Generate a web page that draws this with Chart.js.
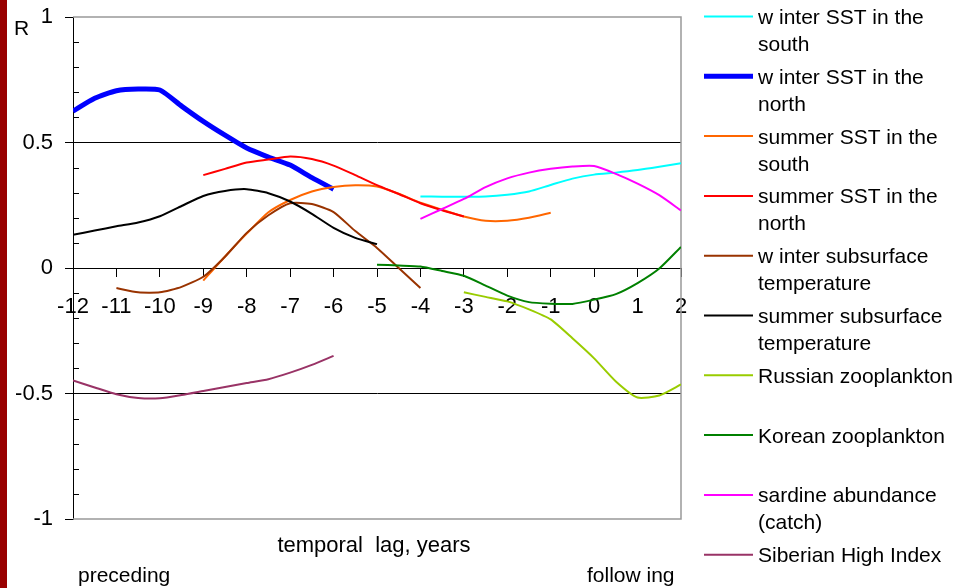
<!DOCTYPE html>
<html lang="en">
<head>
<meta charset="UTF-8">
<title>R vs temporal lag</title>
<script src="https://cdn.jsdelivr.net/npm/chart.js"></script>
<style>
  html, body { margin: 0; padding: 0; background: #fff; }
  #wrap { width: 958px; height: 588px; }
</style>
</head>
<body>
<div id="wrap"><canvas id="myChart" width="958" height="588"></canvas></div>
<script>
// lag in years, half-year steps
const lags = [-12, -11.5, -11, -10.5, -10, -9.5, -9, -8.5, -8, -7.5, -7, -6.5, -6, -5.5, -5,
  -4.5, -4, -3.5, -3, -2.5, -2, -1.5, -1, -0.5, 0, 0.5, 1, 1.5, 2];
const xTicks = [-12, -11, -10, -9, -8, -7, -6, -5, -4, -3, -2, -1, 0, 1, 2];
const yTicks = [-1, -0.5, 0, 0.5, 1];

const _ = null;
const winterSouth = [_, _, _, _, _, _, _, _, _, _, _, _, _, _, _, _,
  0.285, 0.284, 0.284, 0.285, 0.292, 0.305, 0.331, 0.356, 0.372, 0.38, 0.39, 0.403, 0.417];
const winterNorth = [0.625, 0.676, 0.706, 0.713, 0.709, 0.645, 0.584, 0.529, 0.478, 0.442, 0.41, 0.36, 0.314,
  _, _, _, _, _, _, _, _, _, _, _, _, _, _, _, _];
const summerSouth = [_, _, _, _, _, _,
  -0.05, 0.046, 0.137, 0.222, 0.271, 0.305, 0.323, 0.33, 0.325, 0.296, 0.26, 0.232, 0.205, 0.188, 0.188, 0.2, 0.22,
  _, _, _, _, _, _];
const summerNorth = [_, _, _, _, _, _,
  0.37, 0.395, 0.42, 0.432, 0.444, 0.434, 0.408, 0.37, 0.33, 0.295, 0.258, 0.23, 0.205,
  _, _, _, _, _, _, _, _, _, _];
const winterSub = [_, _,
  -0.08, -0.097, -0.097, -0.075, -0.035, 0.045, 0.14, 0.21, 0.258, 0.255, 0.223, 0.147, 0.08, 0.0, -0.08,
  _, _, _, _, _, _, _, _, _, _, _, _];
const summerSub = [0.132, 0.149, 0.166, 0.181, 0.206, 0.247, 0.287, 0.307, 0.314, 0.298, 0.265, 0.216, 0.16, 0.12, 0.095,
  _, _, _, _, _, _, _, _, _, _, _, _, _, _];
const russianZoo = [_, _, _, _, _, _, _, _, _, _, _, _, _, _, _, _, _, _,
  -0.097, -0.115, -0.133, -0.165, -0.205, -0.28, -0.36, -0.452, -0.516, -0.508, -0.464];
const koreanZoo = [_, _, _, _, _, _, _, _, _, _, _, _, _, _,
  0.013, 0.01, 0.006, -0.012, -0.031, -0.07, -0.11, -0.136, -0.142, -0.143, -0.126, -0.104, -0.06, -0.002, 0.084];
const sardine = [_, _, _, _, _, _, _, _, _, _, _, _, _, _, _, _,
  0.196, 0.235, 0.275, 0.322, 0.357, 0.38, 0.395, 0.404, 0.406, 0.375, 0.336, 0.29, 0.229];
const siberian = [-0.448, -0.476, -0.503, -0.518, -0.519, -0.506, -0.49, -0.474, -0.458, -0.443, -0.417, -0.386, -0.35,
  _, _, _, _, _, _, _, _, _, _, _, _, _, _, _, _];

const seriesNames = [
  'w inter SST in the\nsouth',
  'w inter SST in the\nnorth',
  'summer SST in the\nsouth',
  'summer SST in the\nnorth',
  'w inter subsurface\ntemperature',
  'summer subsurface\ntemperature',
  'Russian zooplankton',
  'Korean zooplankton',
  'sardine abundance\n(catch)',
  'Siberian High Index'
];
const seriesValues = [winterSouth, winterNorth, summerSouth, summerNorth, winterSub,
  summerSub, russianZoo, koreanZoo, sardine, siberian];
const seriesColors = ['#00FFFF', '#0000FF', '#FF6600', '#FF0000', '#993300',
  '#000000', '#99CC00', '#008000', '#FF00FF', '#993366'];
const seriesWidths = [2, 5, 2, 2, 2, 2, 2, 2, 2, 2];

const FONT = '"Liberation Sans", Arial, sans-serif';

// dark band, plot frame, minor ticks, texts and legend
const framePlugin = {
  id: 'frame',
  beforeDraw(chart) {
    const c = chart.ctx;
    c.save();
    c.fillStyle = '#fff';
    c.fillRect(0, 0, chart.width, chart.height);
    c.fillStyle = '#990000';
    c.fillRect(0, 0, 7, chart.height);
    c.restore();
  },
  beforeDatasetsDraw(chart) {
    const c = chart.ctx, a = chart.chartArea, y = chart.scales.y;
    c.save();
    c.strokeStyle = '#999';
    c.lineWidth = 1.5;
    c.beginPath();
    c.moveTo(a.left, a.top);
    c.lineTo(a.right, a.top);
    c.lineTo(a.right, a.bottom);
    c.lineTo(a.left, a.bottom);
    c.stroke();
    c.strokeStyle = '#000';
    c.lineWidth = 1;
    c.beginPath();
    for (let i = -10; i <= 10; i++) {
      if (i % 5 === 0) continue;
      const py = Math.round(y.getPixelForValue(i / 10)) + 0.5;
      c.moveTo(a.left, py);
      c.lineTo(a.left + 6, py);
    }
    c.stroke();
    c.restore();
  },
  afterDraw(chart) {
    const c = chart.ctx;
    c.save();
    c.fillStyle = '#000';
    c.textBaseline = 'alphabetic';
    c.font = '21px ' + FONT;
    c.fillText('R', 14, 35);
    c.font = '22px ' + FONT;
    c.textAlign = 'center';
    c.fillText('temporal  lag, years', 374, 552);
    c.textAlign = 'left';
    c.font = '21px ' + FONT;
    c.fillText('preceding', 78, 582);
    c.fillText('follow ing', 587, 582);

    // legend
    chart.data.datasets.forEach((ds, i) => {
      const ly = 16.5 + i * 59.8;
      c.strokeStyle = ds.borderColor;
      c.lineWidth = ds.borderWidth;
      c.beginPath();
      c.moveTo(704, ly);
      c.lineTo(753, ly);
      c.stroke();
      c.fillStyle = '#000';
      c.font = '21px ' + FONT;
      ds.label.split('\n').forEach((t, k) => {
        c.fillText(t, 758, ly + 7.5 + k * 27);
      });
    });
    c.restore();
  }
};

const datasets = seriesNames.map((name, i) => ({
  label: name,
  data: lags.map((x, k) => ({ x: x, y: seriesValues[i][k] })),
  borderColor: seriesColors[i],
  backgroundColor: seriesColors[i],
  borderWidth: seriesWidths[i],
  pointRadius: 0,
  tension: 0.2,
  fill: false,
  spanGaps: false,
  order: seriesNames.length - i
}));

new Chart(document.getElementById('myChart'), {
  type: 'line',
  data: { datasets: datasets },
  options: {
    responsive: false,
    animation: false,
    layout: { padding: { top: 17, right: 277, bottom: 69, left: 0 } },
    plugins: {
      legend: { display: false },
      tooltip: { enabled: false },
      title: { display: false }
    },
    scales: {
      x: {
        type: 'linear',
        min: -12,
        max: 2,
        position: { y: 0 },
        afterBuildTicks: (s) => { s.ticks = xTicks.map(v => ({ value: v })); },
        afterFit: (s) => { s.paddingLeft = 0; s.paddingRight = 0; },
        ticks: {
          color: '#000',
          font: { family: FONT, size: 22 },
          padding: 18,
          maxRotation: 0,
          autoSkip: false,
          callback: (v) => String(v)
        },
        grid: { drawOnChartArea: false, tickLength: 8, tickColor: '#000' },
        border: { color: '#000', width: 1 }
      },
      y: {
        min: -1,
        max: 1,
        afterFit: (s) => { s.width = 73; s.paddingTop = 0; s.paddingBottom = 0; },
        afterBuildTicks: (s) => { s.ticks = yTicks.map(v => ({ value: v })); },
        ticks: {
          color: '#000',
          font: { family: FONT, size: 22 },
          padding: 12,
          callback: (v) => String(v)
        },
        grid: {
          tickLength: 8,
          tickColor: '#000',
          color: (ctx) => (ctx.tick && Math.abs(ctx.tick.value) === 0.5) ? '#000' : 'rgba(0,0,0,0)'
        },
        border: { color: '#000', width: 1 }
      }
    }
  },
  plugins: [framePlugin]
});
</script>
</body>
</html>
